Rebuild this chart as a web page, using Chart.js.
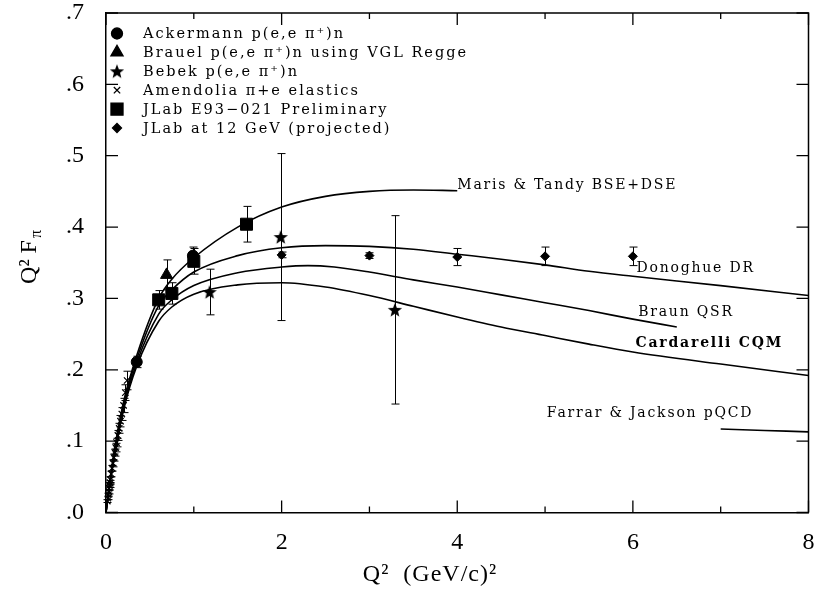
<!DOCTYPE html>
<html>
<head>
<meta charset="utf-8">
<script src="https://cdn.jsdelivr.net/npm/chart.js@4.4.1/dist/chart.umd.min.js"></script>
<style>
  html, body { margin: 0; padding: 0; background: #fff; }
</style>
</head>
<body>
<canvas id="chart" width="814" height="592"></canvas>
<script>
// data points: Q^2 (GeV/c)^2 , Q^2 F_pi , error
const ackQ2 = [0.35, 0.99];
const ackVal = [0.211, 0.360];
const ackErr = [0.008, 0.012];

const brauelQ2 = [0.69];
const brauelVal = [0.333];
const brauelErr = [0.021];

const bebekQ2 = [1.18, 1.99, 3.29];
const bebekVal = [0.309, 0.386, 0.284];
const bebekErr = [0.032, 0.117, 0.132];

const amendQ2 = [0.015, 0.02, 0.025, 0.03, 0.035, 0.04, 0.045, 0.05, 0.06, 0.07, 0.08, 0.09, 0.10, 0.11, 0.12, 0.135, 0.15, 0.165, 0.18, 0.20, 0.22, 0.24];
const amendVal = [0.016, 0.020, 0.025, 0.029, 0.034, 0.038, 0.042, 0.046, 0.054, 0.062, 0.069, 0.077, 0.084, 0.091, 0.098, 0.108, 0.118, 0.128, 0.138, 0.150, 0.168, 0.185];
const amendErr = [0.002, 0.002, 0.002, 0.003, 0.003, 0.003, 0.003, 0.004, 0.004, 0.004, 0.005, 0.005, 0.005, 0.006, 0.006, 0.007, 0.007, 0.008, 0.009, 0.010, 0.011, 0.013];

const jlabQ2 = [0.60, 0.75, 1.00, 1.60];
const jlabVal = [0.298, 0.307, 0.352, 0.404];
const jlabErr = [0.013, 0.015, 0.018, 0.025];

const proj12Q2 = [2, 3, 4, 5, 6];
const proj12Val = [0.361, 0.360, 0.358, 0.359, 0.359];
const proj12Err = [0.004, 0.004, 0.012, 0.013, 0.013];

// theory curves
const marisQ2 = [0, 0.05, 0.1, 0.2, 0.35, 0.6, 0.75, 1.0, 1.5, 2.0, 2.5, 3.0, 3.5, 4.0];
const marisVal = [0, 0.048, 0.090, 0.155, 0.220, 0.300, 0.327, 0.357, 0.400, 0.428, 0.443, 0.450, 0.452, 0.451];

const donQ2 = [0, 0.05, 0.1, 0.2, 0.35, 0.6, 0.75, 1.0, 1.5, 2.0, 2.5, 3.0, 3.5, 4.0, 4.5, 5.0, 5.5, 6.0, 7.0, 8.0];
const donVal = [0, 0.047, 0.088, 0.152, 0.215, 0.290, 0.312, 0.337, 0.360, 0.371, 0.374, 0.373, 0.369, 0.362, 0.355, 0.347, 0.338, 0.331, 0.318, 0.304];

const braunQ2 = [0, 0.05, 0.1, 0.2, 0.35, 0.6, 0.75, 1.0, 1.5, 2.0, 2.3, 2.6, 3.0, 3.5, 4.0, 4.5, 5.0, 5.5, 6.0, 6.5];
const braunVal = [0, 0.046, 0.086, 0.148, 0.210, 0.278, 0.298, 0.318, 0.336, 0.344, 0.346, 0.344, 0.337, 0.326, 0.316, 0.305, 0.294, 0.283, 0.271, 0.260];

const cardQ2 = [0, 0.05, 0.1, 0.2, 0.35, 0.6, 0.75, 1.0, 1.5, 2.0, 2.5, 3.0, 3.5, 4.0, 4.5, 5.0, 5.5, 6.0, 7.0, 8.0];
const cardVal = [0, 0.045, 0.084, 0.144, 0.205, 0.268, 0.288, 0.306, 0.319, 0.322, 0.316, 0.304, 0.289, 0.274, 0.260, 0.248, 0.236, 0.225, 0.208, 0.192];

const farrarQ2 = [7.0, 7.5, 8.0];
const farrarVal = [0.117, 0.115, 0.113];

// curve labels (text, Q2, value at text middle)
const curveText = ["Maris & Tandy BSE+DSE", "Donoghue DR", "Braun QSR", "Cardarelli CQM", "Farrar & Jackson pQCD"];
const curveTextQ2 = [4.0, 6.04, 6.06, 6.03, 5.02];
const curveTextVal = [0.459, 0.342, 0.281, 0.237, 0.139];
const curveTextBold = [false, false, false, true, false];

// axis ticks
const xTicks = [0, 2, 4, 6, 8];
const yTickLabels = [".0", ".1", ".2", ".3", ".4", ".5", ".6", ".7"];

// filled five point star for Bebek
const starImg = (() => {
  const c = document.createElement("canvas");
  c.width = 16; c.height = 16;
  const g = c.getContext("2d");
  g.fillStyle = "#000";
  g.beginPath();
  for (let i = 0; i < 10; i++) {
    const r = i % 2 ? 3.2 : 7.5;
    const a = -Math.PI / 2 + i * Math.PI / 5;
    g.lineTo(8 + r * Math.cos(a), 8.6 + r * Math.sin(a));
  }
  g.closePath();
  g.fill();
  return c;
})();

const pts = (xs, ys) => xs.map((x, i) => ({ x, y: ys[i] }));

function curve(label, xs, ys) {
  return {
    type: "line", label, data: pts(xs, ys),
    borderColor: "#000", borderWidth: 1.6, pointRadius: 0,
    cubicInterpolationMode: "monotone", fill: false, order: 2
  };
}

function markers(label, xs, ys, errs, style, radius, bw) {
  return {
    type: "scatter", label, data: pts(xs, ys), yErr: errs,
    pointStyle: style, pointRadius: radius, pointHoverRadius: radius,
    backgroundColor: "#000", borderColor: "#000", pointBorderWidth: bw || 1,
    showLine: false, order: 1, legendItem: true
  };
}

const datasets = [
  markers("Ackermann p(e,e π⁺)n", ackQ2, ackVal, ackErr, "circle", 5.5),
  markers("Brauel p(e,e π⁺)n using VGL Regge", brauelQ2, brauelVal, brauelErr, "triangle", 7),
  markers("Bebek p(e,e π⁺)n", bebekQ2, bebekVal, bebekErr, starImg, 7),
  markers("Amendolia π+e elastics", amendQ2, amendVal, amendErr, "crossRot", 4.5, 1.2),
  markers("JLab E93−021 Preliminary", jlabQ2, jlabVal, jlabErr, "rect", 8.5),
  markers("JLab at 12 GeV (projected)", proj12Q2, proj12Val, proj12Err, "rectRot", 4.5),
  curve("Maris & Tandy", marisQ2, marisVal),
  curve("Donoghue", donQ2, donVal),
  curve("Braun", braunQ2, braunVal),
  curve("Cardarelli", cardQ2, cardVal),
  curve("Farrar & Jackson", farrarQ2, farrarVal)
];

// error bars
const errorBars = {
  id: "errorBars",
  beforeDatasetsDraw(chart) {
    const { ctx, scales: { x, y } } = chart;
    ctx.save();
    ctx.strokeStyle = "#000";
    ctx.lineWidth = 1;
    chart.data.datasets.forEach((ds) => {
      if (!ds.yErr) return;
      ds.data.forEach((p, i) => {
        const e = ds.yErr[i];
        if (!e) return;
        const px = Math.round(x.getPixelForValue(p.x)) + 0.5;
        const top = y.getPixelForValue(p.y + e);
        const bot = y.getPixelForValue(p.y - e);
        ctx.beginPath();
        ctx.moveTo(px, top); ctx.lineTo(px, bot);
        ctx.moveTo(px - 4, top); ctx.lineTo(px + 4, top);
        ctx.moveTo(px - 4, bot); ctx.lineTo(px + 4, bot);
        ctx.stroke();
      });
    });
    ctx.restore();
  }
};

// box frame, inward ticks, legend, curve labels, axis titles
const decorations = {
  id: "decorations",
  afterDraw(chart) {
    const { ctx, chartArea: a, scales: { x, y } } = chart;
    ctx.save();
    ctx.strokeStyle = "#000";
    ctx.lineWidth = 1.5;
    ctx.beginPath();
    ctx.moveTo(a.left, a.top); ctx.lineTo(a.right, a.top); ctx.lineTo(a.right, a.bottom);
    ctx.stroke();

    ctx.lineWidth = 1.3;
    ctx.beginPath();
    x.ticks.forEach(t => {
      const px = x.getPixelForValue(t.value);
      const len = t.value % 2 === 0 ? 12 : 6;
      ctx.moveTo(px, a.bottom); ctx.lineTo(px, a.bottom - len);
      ctx.moveTo(px, a.top); ctx.lineTo(px, a.top + len);
    });
    y.ticks.forEach(t => {
      const py = y.getPixelForValue(t.value);
      ctx.moveTo(a.left, py); ctx.lineTo(a.left + 12, py);
      ctx.moveTo(a.right, py); ctx.lineTo(a.right - 12, py);
    });
    ctx.stroke();

    // legend
    ctx.fillStyle = "#000";
    ctx.textBaseline = "middle";
    ctx.textAlign = "left";
    ctx.font = "14.5px 'DejaVu Serif'";
    ctx.letterSpacing = "2px";
    let row = 0;
    chart.data.datasets.forEach((ds) => {
      if (!ds.legendItem) return;
      const ly = a.top + 20.5 + row * 18.9;
      Chart.helpers.drawPoint(ctx, {
        pointStyle: ds.pointStyle, radius: ds.pointRadius, rotation: 0,
        borderWidth: ds.pointBorderWidth
      }, a.left + 11, ly);
      ctx.fillText(ds.label, a.left + 37, ly + 1);
      row++;
    });

    // curve labels
    curveText.forEach((t, i) => {
      ctx.font = (curveTextBold[i] ? "bold " : "") + "14px 'DejaVu Serif'";
      ctx.letterSpacing = "1.8px";
      ctx.fillText(t, x.getPixelForValue(curveTextQ2[i]), y.getPixelForValue(curveTextVal[i]));
    });

    // axis titles
    ctx.letterSpacing = "1px";
    ctx.font = "24px 'Liberation Serif'";
    ctx.textAlign = "center";
    ctx.fillText("Q²  (GeV/c)²", 430, 575);

    ctx.translate(30, 256);
    ctx.rotate(-Math.PI / 2);
    ctx.textAlign = "left";
    ctx.letterSpacing = "0px";
    const main = "Q² F";
    const w = ctx.measureText(main).width;
    const sw = 12;
    ctx.fillText(main, -(w + sw) / 2, 0);
    ctx.font = "16px 'Liberation Serif'";
    ctx.fillText("π", -(w + sw) / 2 + w + 2, 7);
    ctx.restore();
  }
};

Chart.defaults.font.family = "'Liberation Serif'";
Chart.defaults.color = "#000";

new Chart(document.getElementById("chart"), {
  type: "scatter",
  data: { datasets },
  options: {
    responsive: false,
    animation: false,
    events: [],
    layout: { autoPadding: false, padding: { top: 13, right: 5.5, left: 0, bottom: 0 } },
    plugins: { legend: { display: false }, tooltip: { enabled: false } },
    scales: {
      x: {
        type: "linear", min: 0, max: 8,
        afterFit: (s) => { s.height = 79.5; s.paddingLeft = 0; s.paddingRight = 0; },
        grid: { display: false, drawTicks: false },
        border: { display: true, color: "#000", width: 1.5 },
        ticks: {
          stepSize: 1, autoSkip: false, padding: 16, maxRotation: 0,
          font: { size: 24 },
          callback: (v) => xTicks.includes(v) ? String(v) : ""
        }
      },
      y: {
        type: "linear", min: 0, max: 0.7,
        afterFit: (s) => { s.width = 106; s.paddingTop = 0; s.paddingBottom = 0; },
        grid: { display: false, drawTicks: false },
        border: { display: true, color: "#000", width: 1.5 },
        ticks: {
          stepSize: 0.1, autoSkip: false, padding: 22,
          font: { size: 24 },
          callback: (v) => yTickLabels[Math.round(v * 10)]
        }
      }
    }
  },
  plugins: [errorBars, decorations]
});
</script>
</body>
</html>
